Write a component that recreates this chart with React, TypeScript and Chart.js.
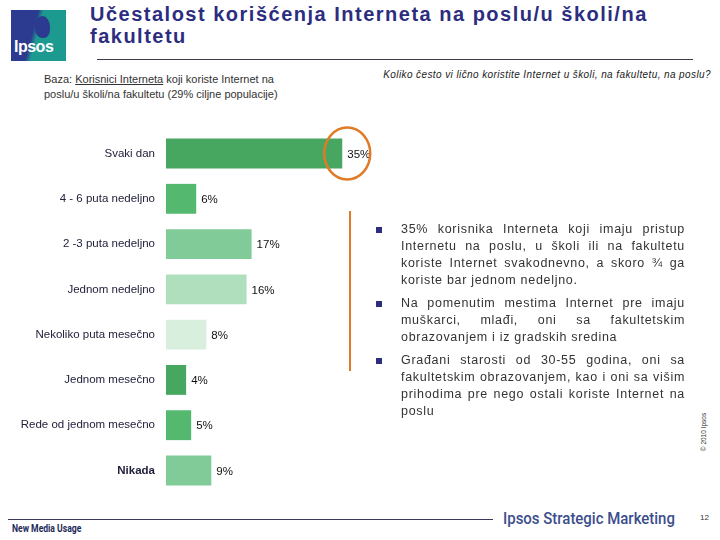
import React, { useEffect, useRef } from "react";
import { Chart, registerables } from "chart.js";

Chart.register(...registerables);

const categories = [
  "Svaki dan",
  "4 - 6 puta nedeljno",
  "2 -3 puta nedeljno",
  "Jednom nedeljno",
  "Nekoliko puta mesečno",
  "Jednom mesečno",
  "Rede od jednom mesečno",
  "Nikada",
];
const values = [35, 6, 17, 16, 8, 4, 5, 9];
const barColors = ["#47a660", "#55b86f", "#80cb97", "#b0dfbd", "#d8efde", "#47a660", "#55b86f", "#80cb97"];

const bullets = [
  "35% korisnika Interneta koji imaju pristup Internetu na poslu, u školi ili na fakultetu koriste Internet svakodnevno, a skoro ¾ ga koriste bar jednom nedeljno.",
  "Na pomenutim mestima Internet pre imaju muškarci, mlađi, oni sa fakultetskim obrazovanjem i iz gradskih sredina",
  "Građani starosti od 30-55 godina, oni sa fakultetskim obrazovanjem, kao i oni sa višim prihodima pre nego ostali koriste Internet na poslu",
];

const valueLabels = {
  id: "valueLabels",
  afterDatasetsDraw(chart: any) {
    const ctx = chart.ctx;
    const meta = chart.getDatasetMeta(0);
    ctx.save();
    ctx.font = "11.5px Arial, 'Liberation Sans', sans-serif";
    ctx.fillStyle = "#111111";
    ctx.textBaseline = "middle";
    ctx.textAlign = "left";
    meta.data.forEach((bar: any, i: number) => {
      ctx.fillText(values[i] + "%", bar.x + 5, bar.y + 1);
    });
    const b0 = meta.data[0];
    ctx.strokeStyle = "#e07b28";
    ctx.lineWidth = 2.5;
    ctx.beginPath();
    ctx.ellipse(b0.x + 5, b0.y, 23, 26, 0, 0, Math.PI * 2);
    ctx.stroke();
    ctx.restore();
  },
};

function BarChart() {
  const ref = useRef<HTMLCanvasElement>(null);
  useEffect(() => {
    const chart = new Chart(ref.current as HTMLCanvasElement, {
      type: "bar",
      data: {
        labels: categories,
        datasets: [
          {
            data: values,
            backgroundColor: barColors,
            borderWidth: 0,
            barPercentage: 0.66,
            categoryPercentage: 1,
          },
        ],
      },
      options: {
        indexAxis: "y",
        animation: false,
        responsive: false,
        maintainAspectRatio: false,
        layout: { padding: 0 },
        plugins: { legend: { display: false }, tooltip: { enabled: false } },
        scales: {
          x: { display: false, min: 0, max: 42.5 },
          y: {
            afterFit: (scale: any) => {
              scale.width = 166;
            },
            grid: { display: false, drawTicks: false },
            border: { display: false },
            ticks: {
              padding: 11,
              color: "#22223c",
              font: (c: any) => ({
                family: "Arial, 'Liberation Sans', sans-serif",
                size: 11.5,
                weight: c.index === 7 ? "bold" : "normal",
              }),
            },
          },
        },
      },
      plugins: [valueLabels],
    } as any);
    return () => chart.destroy();
  }, []);
  return (
    <canvas
      ref={ref}
      width={380}
      height={398}
      style={{ position: "absolute", left: 0, top: 113, width: 380, height: 398 }}
    />
  );
}

export default function App() {
  const sans = "Arial, 'Liberation Sans', sans-serif";
  const narrow = "Roboto, Arial, sans-serif";
  return (
    <div style={{ position: "absolute", left: 0, top: 0, width: 720, height: 540, background: "#fff", overflow: "hidden", fontFamily: sans }}>
      {/* logo */}
      <div
        style={{
          position: "absolute",
          left: 11,
          top: 10,
          width: 55,
          height: 51,
          background: "linear-gradient(105deg, #2c3a8f 0%, #2c3a8f 40%, #1d9a90 48%, #1d9a90 100%)",
        }}
      >
        <div style={{ position: "absolute", left: 24, top: 6, width: 15, height: 22, borderRadius: "50% 50% 40% 45%", background: "#2c3a8f" }} />
        <div style={{ position: "absolute", left: 3, top: 28, color: "#fff", fontWeight: "bold", fontSize: 16, letterSpacing: -0.5, fontFamily: sans }}>Ipsos</div>
      </div>
      {/* title */}
      <div style={{ position: "absolute", left: 90, top: 3, color: "#2d2d7f", fontWeight: "bold", fontSize: 20, lineHeight: "22px", letterSpacing: 1.5, fontFamily: sans, whiteSpace: "nowrap" }}>
        Učestalost korišćenja Interneta na poslu/u školi/na
        <br />
        fakultetu
      </div>
      <div style={{ position: "absolute", left: 97, top: 59, width: 596, height: 0, borderTop: "1.5px solid #3a3a4a" }} />
      {/* base */}
      <div style={{ position: "absolute", left: 44, top: 72, color: "#333", fontSize: 11, lineHeight: "15px", fontFamily: sans }}>
        Baza: <span style={{ textDecoration: "underline" }}>Korisnici Interneta</span> koji koriste Internet na
        <br />
        poslu/u školi/na fakultetu (29% ciljne populacije)
      </div>
      {/* question */}
      <div style={{ position: "absolute", right: 9, top: 69, color: "#222", fontSize: 10, letterSpacing: 0.4, fontStyle: "italic", fontFamily: sans, whiteSpace: "nowrap" }}>
        Koliko često vi lično koristite Internet u školi, na fakultetu, na poslu?
      </div>

      <BarChart />

      {/* orange vertical line */}
      <div style={{ position: "absolute", left: 349, top: 211, width: 2, height: 160, background: "#e07b28" }} />

      {/* bullets */}
      <div style={{ position: "absolute", left: 376, top: 221, width: 309 }}>
        {bullets.map((b, i) => (
          <div key={i} style={{ position: "relative", paddingLeft: 25, marginBottom: 6 }}>
            <div style={{ position: "absolute", left: 0, top: 6, width: 6, height: 6, background: "#2e2e80" }} />
            <div style={{ color: "#333", fontSize: 12.5, lineHeight: "17px", textAlign: "justify", letterSpacing: 0.7, fontFamily: sans }}>{b}</div>
          </div>
        ))}
      </div>

      {/* copyright */}
      <div style={{ position: "absolute", left: 703, top: 432, transform: "translate(-50%, -50%) rotate(-90deg)", fontSize: 6.5, color: "#333", whiteSpace: "nowrap", fontFamily: sans }}>
        © 2010 Ipsos
      </div>

      {/* footer */}
      <div style={{ position: "absolute", left: 8, top: 519, width: 485, height: 0, borderTop: "1.5px solid #3a3a5a" }} />
      <div style={{ position: "absolute", left: 12, top: 522, fontSize: 11, fontWeight: "bold", color: "#1e2a5a", fontFamily: narrow, transform: "scaleX(0.78)", transformOrigin: "left top", whiteSpace: "nowrap" }}>
        New Media Usage
      </div>
      <div style={{ position: "absolute", left: 503, top: 508, fontSize: 17, fontWeight: 500, color: "#3c4e8c", fontFamily: narrow, whiteSpace: "nowrap", transform: "scaleX(0.88)", transformOrigin: "left top" }}>
        Ipsos Strategic Marketing
      </div>
      <div style={{ position: "absolute", left: 700, top: 513, fontSize: 8, color: "#333", fontFamily: sans }}>12</div>
    </div>
  );
}
